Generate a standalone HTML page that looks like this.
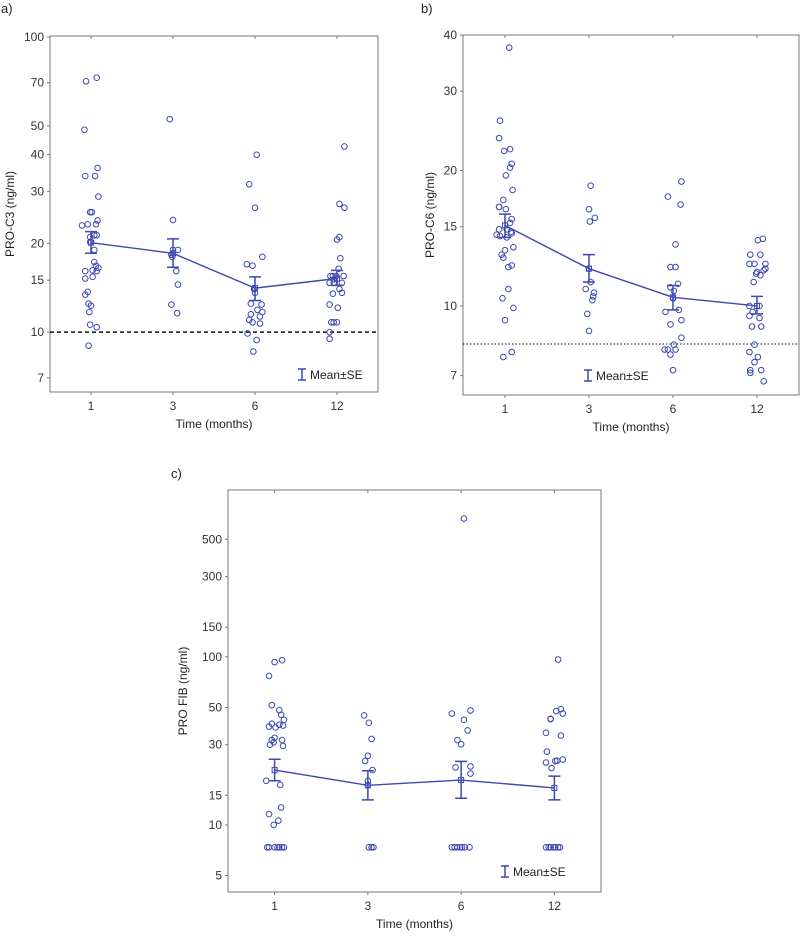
<!DOCTYPE html>
<html><head><meta charset="utf-8">
<style>
html,body{margin:0;padding:0;background:#fff;}
svg{display:block;font-family:"Liberation Sans",sans-serif;}
</style></head>
<body>
<svg id="fig" width="800" height="937" viewBox="0 0 800 937"></svg>
<script>
// ---- shared categories ----
const categories = ["1","3","6","12"];

// ---- panel a: PRO-C3 ----
const aTicks = [7,10,15,20,30,40,50,70,100];
const aV1 = [70.8,72.8,48.5,36,33.8,33.8,28.8,25.5,25.5,23,23.2,23.9,23.2,21.3,21.3,21,20.2,19,17.3,16.8,16.5,16.1,16.1,16.2,15.2,15.4,13.7,13.4,12.5,12.3,11.7,10.6,10.4,9.0];
const aJ1 = [-.06,.07,-.08,.08,-.07,.05,.09,-.01,.01,-.11,-.04,.08,.06,.07,.04,-.01,-.01,.04,.04,.06,.09,-.07,.07,.02,-.07,.02,-.04,-.07,-.03,0,-.02,-.01,.07,-.03];
const aV2 = [52.7,24,19,19,18.5,18.3,18,16.1,14.5,12.4,11.6];
const aJ2 = [-.04,0,0,.06,0,-.02,-.01,.04,.06,-.02,.05];
const aV3 = [39.9,31.7,26.4,18,17,16.8,13.6,14.0,12.5,12.4,11.9,11.7,11.5,11.3,11.0,10.8,10.7,9.9,9.4,8.6];
const aJ3 = [.02,-.07,0,.09,-.1,-.03,0,-.01,-.05,.08,.03,.09,-.05,.06,-.07,-.03,.06,-.09,.02,-.02];
const aV4 = [42.6,27.2,26.4,21,20.6,17.8,16.4,15.5,15.5,15.5,15.5,15.1,14.7,14.7,14.7,14,13.6,13.5,12.4,12.1,10.8,10.8,10.8,10,9.5];
const aJ4 = [.09,.03,.09,.03,0,.04,.02,-.05,-.01,-.08,.08,-.04,-.09,-.04,.06,.03,.06,-.05,-.09,.01,-.07,-.04,0,-.09,-.09];
const aMean = [20.1,18.5,14.1,15.2];
const aHi = [21.9,20.7,15.4,16.2];
const aLo = [18.5,16.6,12.8,14.4];

// ---- panel b: PRO-C6 ----
const bTicks = [7,10,15,20,30,40];
const bV1 = [37.5,25.8,23.6,22.1,22.3,20.7,20.3,19.5,18.1,17.2,16.6,16.6,16.4,15.6,15.3,14.8,14.8,14.4,14.3,14.5,14.2,14.6,13.5,13.3,13.0,12.8,12.3,12.2,10.9,10.4,9.9,9.3,7.9,7.7];
const bJ1 = [.05,-.06,-.07,-.01,.06,.08,.06,.01,.09,-.02,-.07,-.07,.01,.08,.06,-.07,.02,-.1,-.06,.08,.02,.07,.1,0,-.04,-.02,.08,.04,.04,-.03,.1,0,.08,-.02];
const bV2 = [18.5,16.4,15.7,15.4,12.1,11.3,10.9,10.7,10.5,10.3,9.6,8.8];
const bJ2 = [.02,0,.07,.01,0,.02,-.04,.06,.05,.04,-.02,0];
const bV3 = [18.9,17.5,16.8,13.7,12.2,12.2,11.2,11.0,10.8,10.4,9.7,9.8,9.1,9.3,8.5,8.2,8.0,8.0,8.0,7.8,7.2];
const bJ3 = [.1,-.06,.09,.03,-.03,.03,.06,-.03,.01,0,-.09,.07,-.03,.1,.1,.01,-.1,-.06,.03,-.03,0];
const bV4 = [14.1,14.0,13.0,13.0,12.4,12.4,12.4,11.9,11.7,12.0,12.1,11.8,11.3,10.0,10.0,9.7,9.5,9.4,9.0,9.0,8.2,7.9,7.7,7.5,7.2,7.1,7.2,6.8];
const bJ4 = [.07,.01,-.08,.04,-.09,-.03,.1,0,.04,.08,.1,-.01,-.04,-.09,.03,-.05,-.09,.03,-.06,.05,-.03,-.09,.01,-.03,-.08,-.08,.05,.08];
const bMean = [15.1,12.1,10.45,10.0];
const bHi = [16.0,13.0,11.1,10.5];
const bLo = [14.2,11.3,9.8,9.6];

// ---- panel c: PRO FIB ----
const cTicks = [5,10,15,30,50,100,150,300,500];
const cV1 = [93,95.5,77,51.6,48.2,45.2,42.2,38.5,40,38,39.5,39,33,32,31,30,32,29.5,18.3,17.3,12.7,11.6,10.6,10.0,7.36,7.36,7.36,7.36,7.36,7.36,7.36];
const cJ1 = [0,.08,-.06,-.03,.05,.07,.10,-.06,-.03,.01,.05,.09,0,-.03,-.01,-.05,.08,.09,-.09,.06,.07,-.06,.04,-.01,-.08,-.06,0,.03,.05,.08,.10];
const cV2 = [44.8,40.5,32.5,25.8,24,21.2,18.3,17.3,7.36,7.36,7.36];
const cJ2 = [-.04,.01,.04,0,-.03,.05,0,0,.01,.04,.06];
const cV3 = [665,46,48,42.2,36.5,32,30.2,22,22.3,20.2,7.36,7.36,7.36,7.36,7.36,7.36,7.36];
const cJ3 = [.03,-.1,.1,.03,.07,-.04,0,-.06,.1,.1,-.1,-.07,-.04,-.01,.01,.04,.09];
const cV4 = [96.4,48.9,47.6,46,42.8,42.6,35.3,34,27.3,24.5,24,24.1,23.5,21.8,7.36,7.36,7.36,7.36,7.36,7.36,7.36];
const cJ4 = [.04,.07,.02,.09,-.04,-.04,-.09,.07,-.08,.09,.01,.03,-.09,-.03,-.09,-.06,-.04,-.01,.01,.04,.06];
const cMean = [21.2,17.2,18.5,16.6];
const cHi = [24.6,21.0,23.9,19.5];
const cLo = [18.3,14.1,14.4,14.1];

const NS = "http://www.w3.org/2000/svg";
const svg = document.getElementById("fig");
const BLUE = "#3c48b4";
function mk(tag, attrs, parent, text){
  const e = document.createElementNS(NS, tag);
  for (const k in attrs) e.setAttribute(k, attrs[k]);
  if (text !== undefined) e.textContent = text;
  (parent || svg).appendChild(e);
  return e;
}

function panel(p){
  const g = mk("g", {});
  
  
  const L = Math.log10;
  const y = v => p.y0 + (L(p.vTop) - L(v)) / (L(p.vTop) - L(p.vBot)) * (p.y1 - p.y0);
  const step = (p.x1 - p.x0) / 4;
  const x = (i, j) => p.x0 + step * (i + 0.5 + (j || 0));

  const lbl = mk("text", {x: p.lx, y: p.ly, "font-size": 13, fill: "#222"}, g, p.letter);
  
  

  const box = mk("rect", {x: p.x0, y: p.y0, width: p.x1 - p.x0, height: p.y1 - p.y0, fill: "none", stroke: "#777", "stroke-width": 1}, g);
  
  

  // y ticks
  p.ticks.forEach(t => {
    const yy = y(t);
    const tk = mk("line", {x1: p.x0 - 3, x2: p.x0, y1: yy, y2: yy, stroke: "#777"}, g);
    
    
    const tl = mk("text", {x: p.x0 - 6, y: yy + 4, "font-size": 12, fill: "#333", "text-anchor": "end"}, g, String(t));
    
    
  });
  // x ticks
  categories.forEach((c, i) => {
    const xx = x(i);
    const t1 = mk("line", {x1: xx, x2: xx, y1: p.y1, y2: p.y1 + 3, stroke: "#777"}, g);
    
    
    const t2 = mk("line", {x1: xx, x2: xx, y1: p.y0, y2: p.y0 + 3, stroke: "#777"}, g);
    
    
    const tl = mk("text", {x: xx, y: p.y1 + 18, "font-size": 12, fill: "#333", "text-anchor": "middle"}, g, c);
    
    
  });
  const xt = mk("text", {x: (p.x0 + p.x1) / 2, y: p.y1 + 36, "font-size": 12, fill: "#222", "text-anchor": "middle"}, g, "Time (months)");
  
  
  const ytx = p.x0 - p.ytOff, yty = (p.y0 + p.y1) / 2;
  const yt = mk("text", {x: ytx, y: yty, "font-size": 12, fill: "#222", "text-anchor": "middle", transform: `rotate(-90 ${ytx} ${yty})`}, g, p.ytitle);
  
  

  // reference line
  if (p.ref) {
    const rl = mk("line", {x1: p.x0, x2: p.x1, y1: y(p.ref), y2: y(p.ref), stroke: "#111", "stroke-width": p.refW, "stroke-dasharray": p.refDash}, g);
    
    
  }

  // points
  p.vals.forEach((arr, i) => {
    arr.forEach((v, k) => {
      const c = mk("circle", {cx: x(i, p.jit[i][k]), cy: y(v), r: 2.8, fill: "none", stroke: BLUE, "stroke-width": 1}, g);
      
      
    });
  });

  // mean line
  const pts = p.mean.map((m, i) => x(i) + "," + y(m)).join(" ");
  const ml = mk("polyline", {points: pts, fill: "none", stroke: BLUE, "stroke-width": 1.4}, g);
  
  
  p.mean.forEach((m, i) => {
    const xx = x(i), yh = y(p.hi[i]), yl = y(p.lo[i]);
    const eb = mk("path", {d: `M${xx-6},${yh}H${xx+6}M${xx},${yh}V${yl}M${xx-6},${yl}H${xx+6}`, stroke: BLUE, "stroke-width": 1.5, fill: "none"}, g);
    
    
    const sq = mk("rect", {x: xx - 2.5, y: y(m) - 2.5, width: 5, height: 5, fill: "none", stroke: BLUE, "stroke-width": 1}, g);
    
    
  });

  // legend
  const lg = mk("g", {}, g);
  
  
  const lx = p.legX, ly = p.legY;
  mk("path", {d: `M${lx-4},${ly-6}H${lx+4}M${lx},${ly-6}V${ly+5}M${lx-4},${ly+5}H${lx+4}`, stroke: BLUE, "stroke-width": 1.5, fill: "none"}, lg);
  mk("text", {x: lx + 8, y: ly + 4, "font-size": 12, fill: "#222"}, lg, "Mean±SE");
}

panel({name: "panel-a-pro-c3", letter: "a)", lx: 1, ly: 13, x0: 50, x1: 378, y0: 36, y1: 392, vTop: 100.8, vBot: 6.27,
  ticks: aTicks, ytitle: "PRO-C3 (ng/ml)", ytOff: 36, ref: 10, refW: 1.5, refDash: "4,3",
  vals: [aV1,aV2,aV3,aV4], jit: [aJ1,aJ2,aJ3,aJ4], mean: aMean, hi: aHi, lo: aLo, legX: 302, legY: 375});
panel({name: "panel-b-pro-c6", letter: "b)", lx: 421, ly: 13, x0: 463, x1: 799, y0: 35, y1: 395, vTop: 40, vBot: 6.34,
  ticks: bTicks, ytitle: "PRO-C6 (ng/ml)", ytOff: 29, ref: 8.23, refW: 1, refDash: "1.5,2",
  vals: [bV1,bV2,bV3,bV4], jit: [bJ1,bJ2,bJ3,bJ4], mean: bMean, hi: bHi, lo: bLo, legX: 588, legY: 376});
panel({name: "panel-c-pro-fib", letter: "c)", lx: 171, ly: 478, x0: 228, x1: 601, y0: 490, y1: 892, vTop: 983, vBot: 3.99,
  ticks: cTicks, ytitle: "PRO FIB (ng/ml)", ytOff: 41, ref: null,
  vals: [cV1,cV2,cV3,cV4], jit: [cJ1,cJ2,cJ3,cJ4], mean: cMean, hi: cHi, lo: cLo, legX: 505, legY: 872});
</script>
</body></html>
